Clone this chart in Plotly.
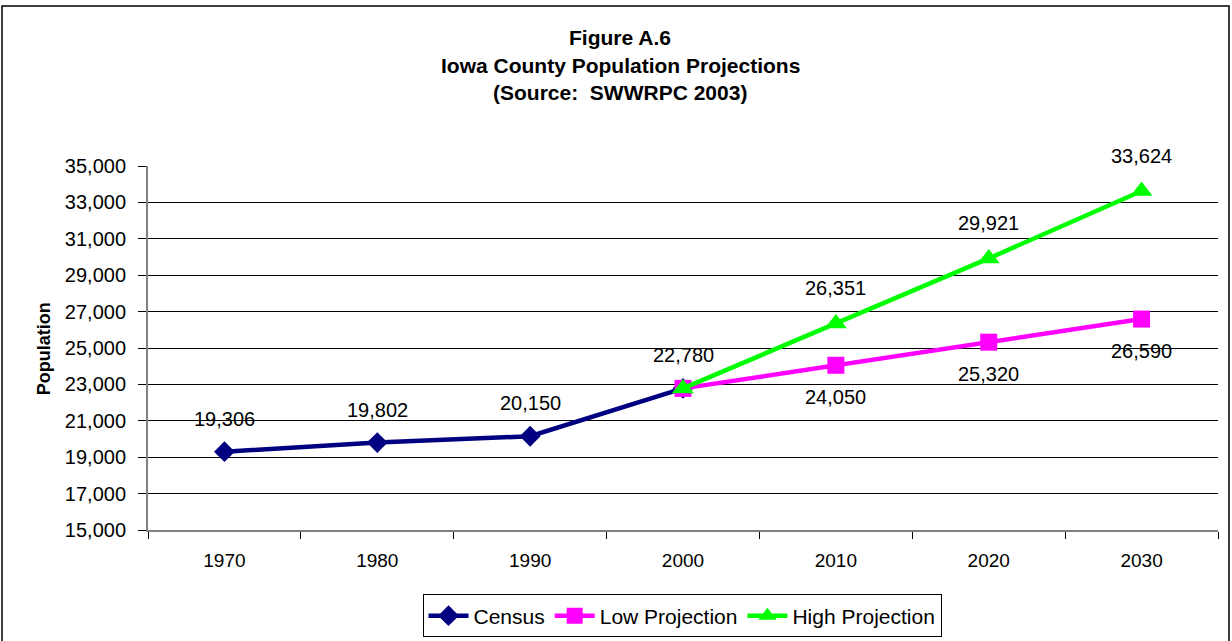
import plotly.graph_objects as go

years = ["1970", "1980", "1990", "2000", "2010", "2020", "2030"]
census = [19306, 19802, 20150, 22780, None, None, None]
low_proj = [None, None, None, 22780, 24050, 25320, 26590]
high_proj = [None, None, None, 22780, 26351, 29921, 33624]

FONT = "Liberation Sans, Arial, sans-serif"
K = 650 / 641  # vertical compensation
W, H = 1232, 650
L, R = 148, 1218
T, B = round(164 * K), round(530 * K)

def px(x):
    return (x - L) / (R - L)

def py(y):
    return (B - y * K) / (B - T)

fig = go.Figure()
fig.add_trace(go.Scatter(x=years, y=census, name="Census", mode="lines+markers",
                         line=dict(color="#000080", width=4.5),
                         marker=dict(symbol="diamond", size=16, color="#000080")))
fig.add_trace(go.Scatter(x=years, y=low_proj, name="Low Projection", mode="lines+markers",
                         line=dict(color="#FF00FF", width=4.5),
                         marker=dict(symbol="square", size=17, color="#FF00FF")))
fig.add_trace(go.Scatter(x=years, y=high_proj, name="High Projection", mode="lines+markers",
                         line=dict(color="#00FF00", width=4.5),
                         marker=dict(symbol="triangle-up", size=19, color="#00FF00")))

LBL = dict(family=FONT, size=20, color="black")
annotations = []
for i, v in enumerate(census):
    if v is not None:
        annotations.append(dict(x=i, y=v, text=f"{v:,}", showarrow=False, yshift=33, font=LBL))
for i, v in enumerate(low_proj):
    if v is not None and i > 3:
        annotations.append(dict(x=i, y=v, text=f"{v:,}", showarrow=False, yshift=-32, font=LBL))
for i, v in enumerate(high_proj):
    if v is not None and i > 3:
        annotations.append(dict(x=i, y=v, text=f"{v:,}", showarrow=False, yshift=35, font=LBL))

titles = ["Figure A.6", "Iowa County Population Projections", "(Source:  SWWRPC 2003)"]
for i, t in enumerate(titles):
    annotations.append(dict(xref="paper", yref="paper", x=px(620), y=py(35 + 27.5 * i),
                            xanchor="center", yanchor="middle", showarrow=False,
                            text=f"<b>{t}</b>", font=dict(family=FONT, size=21, color="black")))

annotations.append(dict(xref="paper", yref="paper", x=px(44), y=py(348), textangle=-90,
                        xanchor="center", yanchor="middle", showarrow=False,
                        text="<b>Population</b>", font=dict(family=FONT, size=18, color="black")))

fig.update_layout(
    width=W, height=H,
    margin=dict(l=L, r=W - R, t=T, b=H - B, pad=0),
    paper_bgcolor="white", plot_bgcolor="white",
    font=dict(family=FONT, size=20, color="black"),
    showlegend=True,
    legend=dict(orientation="h", x=px(682), y=py(616), xanchor="center", yanchor="middle",
                bordercolor="black", borderwidth=1, bgcolor="white",
                font=dict(family=FONT, size=21, color="black"), itemwidth=40),
    annotations=annotations,
    shapes=[dict(type="rect", xref="paper", yref="paper",
                 x0=px(2), x1=px(1229), y0=py(3), y1=py(644),
                 line=dict(color="black", width=1.5), fillcolor="rgba(0,0,0,0)", layer="below")],
)
fig.update_xaxes(type="category", categoryorder="array", categoryarray=years,
                 range=[-0.5, 6.5], showgrid=False, showline=True, linecolor="#808080", linewidth=2,
                 ticks="outside", tickson="boundaries", ticklen=7, tickcolor="black", tickwidth=1,
                 tickfont=dict(family=FONT, size=19), ticklabelstandoff=12, zeroline=False)
fig.update_yaxes(range=[15000, 35000], tick0=15000, dtick=2000, tickformat=",d", showgrid=True,
                 gridcolor="black", gridwidth=1, showline=True, linecolor="#808080", linewidth=2,
                 ticks="outside", ticklen=8, tickcolor="black", tickwidth=1,
                 tickfont=dict(family=FONT, size=20), ticklabelstandoff=8, zeroline=False)

post = ("document.documentElement.style.margin='0';document.body.style.margin='0';"
        "document.documentElement.style.overflow='hidden';document.body.style.overflow='hidden';")
fig.write_html("out.html", post_script=post, config={"displayModeBar": False})
